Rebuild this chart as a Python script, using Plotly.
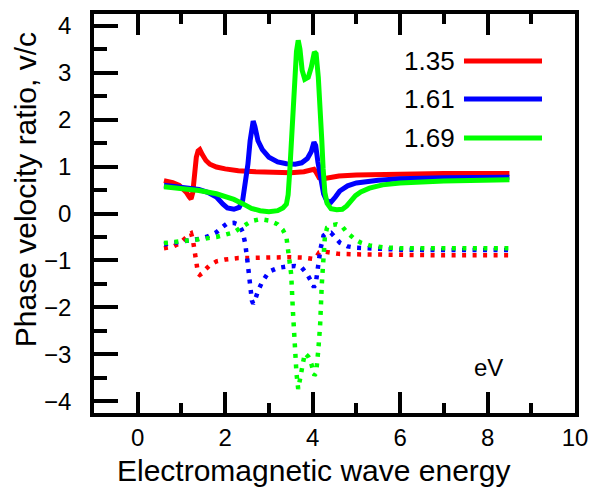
import plotly.graph_objects as go

# ---------------- data ----------------
red_x = [0.6, 0.8, 0.95, 1.05, 1.12, 1.18, 1.22, 1.26, 1.30, 1.34, 1.38, 1.42, 1.48, 1.56,
         1.65, 1.80, 2.0, 2.3, 2.7, 3.1, 3.5, 3.8, 3.95, 4.03, 4.08, 4.15, 4.25, 4.4, 4.6,
         5.0, 5.5, 6.0, 7.0, 8.0, 8.5]
red_pos = [0.70, 0.66, 0.60, 0.52, 0.44, 0.35, 0.31, 0.45, 0.85, 1.20, 1.33, 1.36, 1.25, 1.13,
           1.05, 0.99, 0.95, 0.91, 0.89, 0.88, 0.87, 0.89, 0.92, 0.94, 0.88, 0.76, 0.74, 0.77, 0.80,
           0.82, 0.83, 0.84, 0.85, 0.85, 0.85]
red_neg = [-0.74, -0.71, -0.64, -0.57, -0.50, -0.44, -0.42, -0.55, -0.85, -1.15, -1.28, -1.31, -1.27, -1.18,
           -1.10, -1.02, -0.98, -0.95, -0.94, -0.93, -0.93, -0.94, -0.96, -0.97, -0.93, -0.83, -0.81, -0.84, -0.86,
           -0.87, -0.88, -0.88, -0.89, -0.89, -0.89]

blue_x = [0.6, 0.9, 1.2, 1.4, 1.6, 1.8, 1.95, 2.05, 2.2, 2.32, 2.40, 2.46, 2.52, 2.57, 2.61,
          2.64, 2.68, 2.75, 2.85, 3.0, 3.2, 3.4, 3.6, 3.75, 3.88, 3.97, 4.03, 4.07, 4.12,
          4.18, 4.25, 4.32, 4.42, 4.52, 4.62, 4.8, 5.0, 5.5, 6.0, 7.0, 8.0, 8.5]
blue_pos = [0.60, 0.57, 0.54, 0.51, 0.45, 0.35, 0.20, 0.12, 0.09, 0.13, 0.28, 0.60, 1.05, 1.55, 1.88,
            1.97, 1.85, 1.55, 1.36, 1.20, 1.10, 1.06, 1.05, 1.08, 1.17, 1.32, 1.52, 1.45, 1.10,
            0.75, 0.42, 0.27, 0.24, 0.35, 0.48, 0.59, 0.65, 0.71, 0.74, 0.76, 0.77, 0.77]
blue_neg = [-0.66, -0.62, -0.58, -0.54, -0.49, -0.40, -0.28, -0.21, -0.20, -0.24, -0.39, -0.65, -1.10, -1.55, -1.85,
            -1.92, -1.85, -1.65, -1.45, -1.24, -1.16, -1.13, -1.12, -1.15, -1.30, -1.45, -1.57, -1.50, -1.10,
            -0.75, -0.47, -0.42, -0.41, -0.50, -0.62, -0.70, -0.73, -0.75, -0.77, -0.78, -0.78, -0.78]

green_x = [0.6, 1.0, 1.4, 1.8, 2.0, 2.2, 2.4, 2.6, 2.8, 3.0, 3.2, 3.32, 3.40, 3.44, 3.48, 3.51,
           3.55, 3.59, 3.63, 3.67, 3.71, 3.76, 3.82, 3.90, 3.97, 4.04, 4.08, 4.13, 4.17, 4.21,
           4.24, 4.28, 4.33, 4.42, 4.55, 4.68, 4.78, 4.88, 4.98, 5.1, 5.3, 5.6, 6.0, 7.0, 8.0, 8.5]
green_pos = [0.57, 0.53, 0.49, 0.42, 0.36, 0.30, 0.21, 0.11, 0.06, 0.04, 0.06, 0.12, 0.20, 0.40, 0.95, 1.50,
             2.20, 2.90, 3.45, 3.69, 3.50, 3.05, 2.86, 2.90, 3.12, 3.44, 3.40, 2.90, 2.35, 1.55,
             0.95, 0.45, 0.22, 0.10, 0.08, 0.09, 0.16, 0.28, 0.38, 0.46, 0.54, 0.61, 0.65, 0.69, 0.71, 0.72]
green_neg = [-0.63, -0.60, -0.55, -0.50, -0.45, -0.40, -0.28, -0.16, -0.12, -0.15, -0.23, -0.35, -0.50, -0.75, -1.00, -1.30,
             -2.10, -2.80, -3.40, -3.74, -3.50, -3.20, -2.98, -3.05, -3.20, -3.45, -3.40, -2.90, -2.40, -1.50,
             -0.90, -0.50, -0.30, -0.25, -0.23, -0.28, -0.40, -0.48, -0.56, -0.62, -0.68, -0.72, -0.74, -0.74, -0.74, -0.74]

legend_labels = ["1.35", "1.61", "1.69"]
colors = ["#FF0000", "#0000FF", "#00FF00"]

x_title = "Electromagnetic wave energy"
y_title = "Phase velocity ratio, v/c"
unit_label = "eV"

FONT = "Liberation Sans, Arial, sans-serif"

fig = go.Figure()
series = [(red_x, red_pos, red_neg), (blue_x, blue_pos, blue_neg), (green_x, green_pos, green_neg)]
for (xs, pos, neg), c in zip(series, colors):
    fig.add_trace(go.Scatter(x=xs, y=neg, mode="lines",
                             line=dict(color=c, width=4.5, dash="4px,6.5px"),
                             showlegend=False, hoverinfo="skip"))
for (xs, pos, neg), c, lab in zip(series, colors, legend_labels):
    fig.add_trace(go.Scatter(x=xs, y=pos, mode="lines", name=lab,
                             line=dict(color=c, width=5), showlegend=False))

# legend drawn as text + line samples (text to the left of the line, as in the reference)
leg_y = [0.882, 0.787, 0.689]
for lab, c, yy in zip(legend_labels, colors, leg_y):
    fig.add_annotation(x=0.7547, y=yy, xref="paper", yref="paper", text=lab,
                       showarrow=False, xanchor="right", yanchor="middle",
                       font=dict(family=FONT, size=26, color="black"))
    fig.add_shape(type="line", xref="paper", yref="paper", x0=0.7692, x1=0.9314,
                  y0=yy, y1=yy, line=dict(color=c, width=5))

fig.add_annotation(x=0.8545, y=0.0752, xref="paper", yref="paper", text=unit_label,
                   showarrow=False, font=dict(family=FONT, size=24, color="black"))

# axis titles as annotations for exact placement
fig.add_annotation(x=0.457, y=-0.143, xref="paper", yref="paper", text=x_title,
                   showarrow=False, xanchor="center", yanchor="middle",
                   font=dict(family=FONT, size=30, color="black"))
fig.add_annotation(x=-0.141, y=0.559, xref="paper", yref="paper", text=y_title,
                   showarrow=False, xanchor="center", yanchor="middle", textangle=-90,
                   font=dict(family=FONT, size=30, color="black"))

axis_common = dict(showgrid=False, zeroline=False, showline=True, linecolor="black",
                   linewidth=3.5, ticks="inside", tickcolor="black", tickwidth=3.5,
                   automargin=False,
                   tickfont=dict(family=FONT, size=24, color="black"))

# page body has an 8px default margin, so the figure sits 8px right/down in the window
fig.update_layout(
    width=595, height=480,
    margin=dict(l=86, r=28, t=6, b=75),
    paper_bgcolor="white", plot_bgcolor="white",
    font=dict(family=FONT, color="black"),
    xaxis=dict(range=[-1, 10], tick0=0, dtick=2, ticklen=21, mirror="ticks",
               minor=dict(dtick=1, tick0=0, ticklen=10, tickwidth=3.5, tickcolor="black", ticks="inside"),
               ticklabelstandoff=0,
               **axis_common),
    yaxis=dict(range=[-4.25, 4.25], tick0=0, dtick=1, ticklen=24, mirror=True,
               minor=dict(dtick=0.5, tick0=0, ticklen=13, tickwidth=3.5, tickcolor="black", ticks="inside"),
               ticklabelstandoff=14,
               **axis_common),
)

fig.write_html("out.html")
